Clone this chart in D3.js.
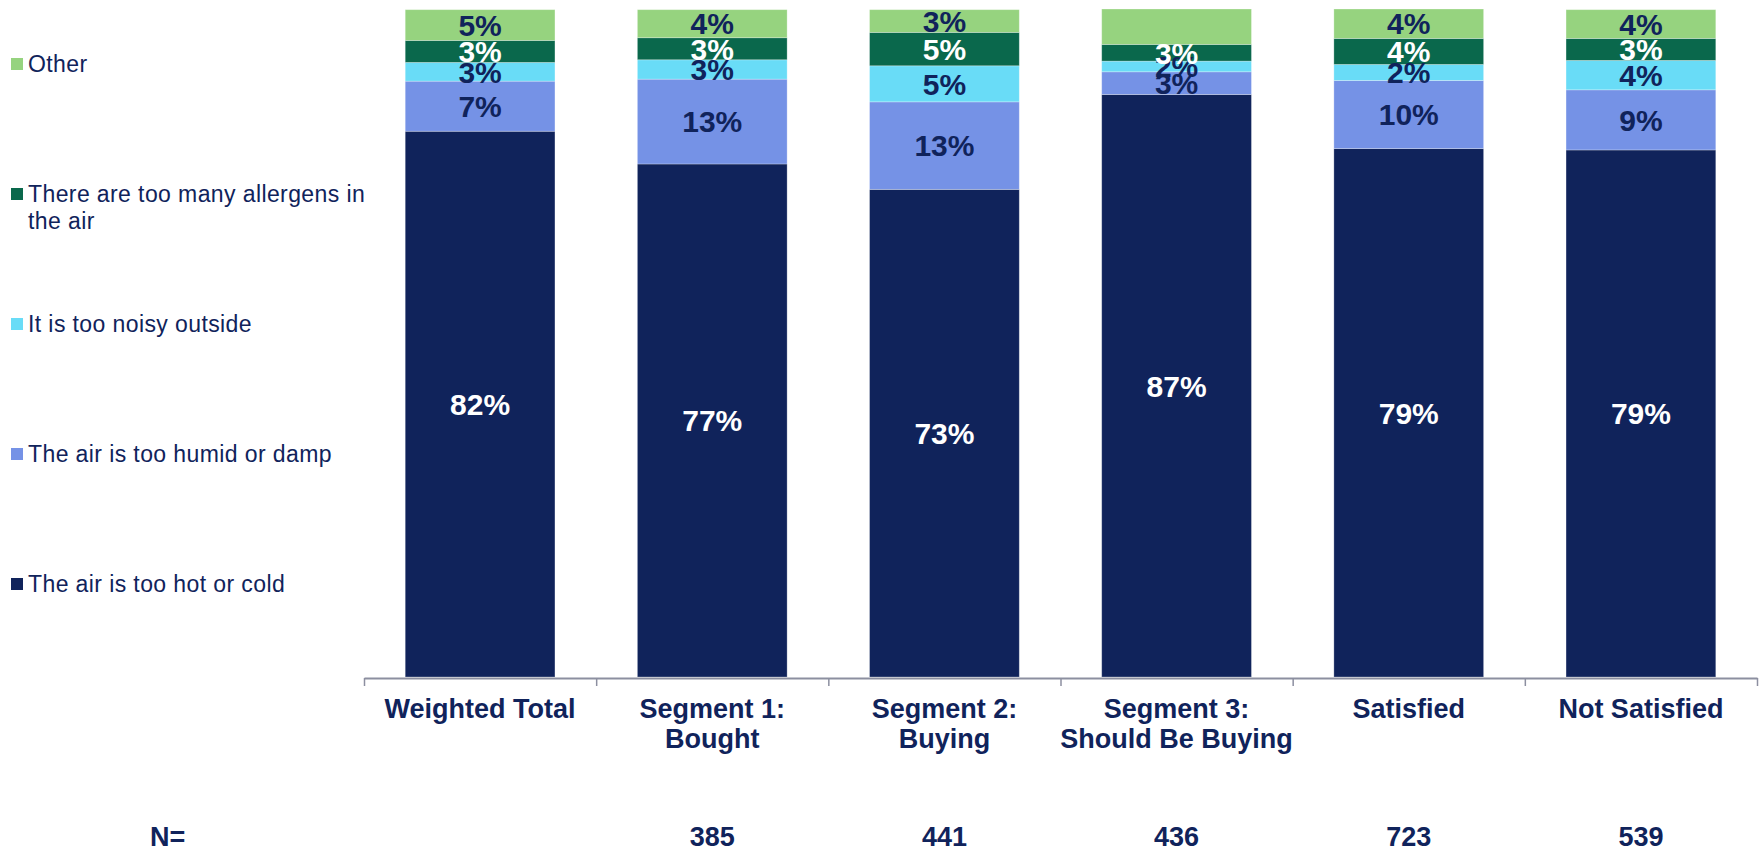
<!DOCTYPE html>
<html>
<head>
<meta charset="utf-8">
<script src="https://cdn.jsdelivr.net/npm/d3@7"></script>
<style>
  html, body { margin: 0; padding: 0; background: #fff; }
  svg text { font-family: "Liberation Sans", Arial, sans-serif; }
</style>
</head>
<body>
<svg id="chart" width="1759" height="851"></svg>
<script>
// <-- data -->
var categories = ["Weighted Total", "Segment 1:\nBought", "Segment 2:\nBuying",
                  "Segment 3:\nShould Be Buying", "Satisfied", "Not Satisfied"];
var nValues = ["", "385", "441", "436", "723", "539"];

// series, bottom to top
var seriesNames = ["The air is too hot or cold", "The air is too humid or damp",
                   "It is too noisy outside", "There are too many allergens in the air", "Other"];
var hotCold   = [81.7, 76.8, 73.0, 87.2, 79.1, 78.9];
var humid     = [7.5, 12.7, 13.1, 3.4, 10.2, 9.0];
var noisy     = [2.8, 2.9, 5.4, 1.6, 2.4, 4.4];
var allergens = [3.3, 3.3, 5.0, 2.5, 3.9, 3.3];
var other     = [4.6, 4.2, 3.4, 5.3, 4.4, 4.3];
// the reference leaves the "Other" label out on Segment 3
var otherShown = [true, true, true, false, true, true];

;(function(){
  var svg = d3.select("#chart");
  var navy = "#10235B";
  var colors = ["#10235B", "#7592E6", "#69DCF7", "#0A684C", "#96D37F"];
  var labelColors = ["#fff", navy, navy, "#fff", navy];
  var values = [hotCold, humid, noisy, allergens, other];

  var rows = categories.map(function(c, i){
    var r = {cat: c};
    seriesNames.forEach(function(s, k){ r[s] = values[k][i] / 100; });
    return r;
  });
  var stacked = d3.stack().keys(seriesNames)(rows);

  var x = d3.scaleBand()
            .domain(categories)
            .range([364, 1757])
            .paddingInner(0.355)
            .paddingOuter(0.1775);
  var y = d3.scaleLinear().domain([0, 1]).range([677, 9]);

  // bars
  var layers = svg.append("g").selectAll("g")
                  .data(stacked).enter().append("g")
                  .attr("fill", function(d, i){ return colors[i]; });
  layers.selectAll("rect")
        .data(function(d){ return d; })
        .enter().append("rect")
        .attr("x", function(d){ return x(d.data.cat); })
        .attr("width", x.bandwidth())
        .attr("y", function(d){ return y(d[1]); })
        .attr("height", function(d){ return y(d[0]) - y(d[1]); })
        .attr("stroke", "#fff")
        .attr("stroke-opacity", 0.35)
        .attr("stroke-width", 0.8);

  // value labels
  stacked.forEach(function(layer, k){
    svg.append("g").selectAll("text")
       .data(layer.filter(function(d, i){ return k !== 4 || otherShown[i]; }))
       .enter().append("text")
       .attr("x", function(d){ return x(d.data.cat) + x.bandwidth() / 2; })
       .attr("y", function(d){ return (y(d[0]) + y(d[1])) / 2; })
       .attr("dy", "0.36em")
       .attr("text-anchor", "middle")
       .attr("font-size", 30)
       .attr("font-weight", "bold")
       .attr("fill", labelColors[k])
       .text(function(d){ return Math.round((d[1] - d[0]) * 100) + "%"; });
  });

  // axis with ticks at category boundaries
  var edge = d3.scaleLinear().domain([0, categories.length]).range([364, 1757]);
  var axis = svg.append("g")
                .attr("transform", "translate(0,678)")
                .call(d3.axisBottom(edge)
                        .tickValues(d3.range(categories.length + 1))
                        .tickFormat("")
                        .tickSize(8)
                        .tickSizeOuter(0));
  axis.select(".domain").attr("stroke", "#8C8FA0").attr("stroke-width", 2);
  axis.selectAll(".tick line").attr("stroke", "#8C8FA0").attr("stroke-width", 1.5);

  // category labels
  var cats = svg.append("g").selectAll("text")
                .data(categories).enter().append("text")
                .attr("x", function(d){ return x(d) + x.bandwidth() / 2; })
                .attr("y", 718)
                .attr("text-anchor", "middle")
                .attr("font-size", 27)
                .attr("font-weight", "bold")
                .attr("fill", navy);
  cats.selectAll("tspan")
      .data(function(d){ return d.split("\n"); })
      .enter().append("tspan")
      .attr("x", function(){ var p = d3.select(this.parentNode).datum(); return x(p) + x.bandwidth() / 2; })
      .attr("dy", function(d, i){ return i ? 30 : 0; })
      .text(function(d){ return d; });

  // N row
  svg.append("text")
     .attr("x", 150).attr("y", 846)
     .attr("font-size", 27).attr("font-weight", "bold").attr("fill", navy)
     .text("N=");
  svg.append("g").selectAll("text")
     .data(nValues).enter().append("text")
     .attr("x", function(d, i){ return x(categories[i]) + x.bandwidth() / 2; })
     .attr("y", 846)
     .attr("text-anchor", "middle")
     .attr("font-size", 27).attr("font-weight", "bold").attr("fill", navy)
     .text(function(d){ return d; });

  // legend, top item = last series
  var legend = svg.append("g");
  var order = seriesNames.map(function(s, k){ return k; }).reverse();
  order.forEach(function(k, row){
    var cy = 64 + row * 130;
    legend.append("rect")
          .attr("x", 11).attr("y", cy - 6)
          .attr("width", 12).attr("height", 12)
          .attr("fill", colors[k]);
    var t = legend.append("text")
                  .attr("x", 28).attr("y", cy)
                  .attr("font-size", 23)
                  .attr("letter-spacing", 0.4)
                  .attr("fill", navy);
    wrap(t, seriesNames[k], 345, 27);
  });

  function wrap(t, str, width, lh){
    var words = str.split(" ");
    var line = [];
    var span = t.append("tspan").attr("x", 28).attr("dy", "0.36em");
    words.forEach(function(w){
      line.push(w);
      span.text(line.join(" "));
      if (span.node().getComputedTextLength() > width && line.length > 1) {
        line.pop();
        span.text(line.join(" "));
        line = [w];
        span = t.append("tspan").attr("x", 28).attr("dy", lh).text(w);
      }
    });
  }
})();
</script>
</body>
</html>
